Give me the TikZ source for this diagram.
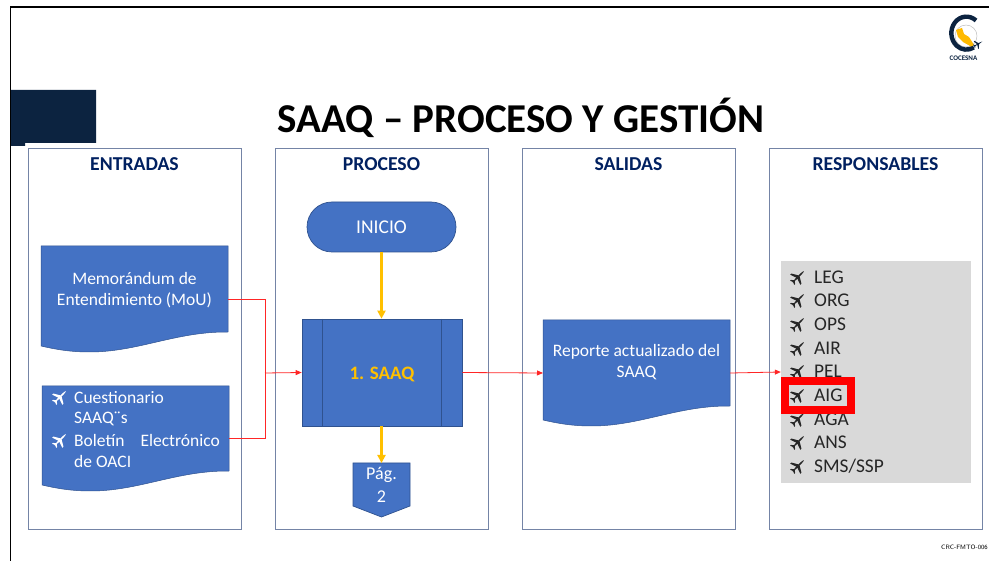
\documentclass[tikz,border=0pt]{standalone}
\usepackage{fontspec}
\setmainfont{Carlito}
\usetikzlibrary{arrows.meta}
\definecolor{boxblue}{HTML}{4472C4}
\definecolor{boxedge}{HTML}{2F528F}
\definecolor{paneledge}{HTML}{7484A6}
\definecolor{headnavy}{HTML}{002060}
\definecolor{bannernavy}{HTML}{0C2340}
\definecolor{gold}{HTML}{FFC000}
\definecolor{softgray}{HTML}{D9D9D9}
% x, y top, width, height, name
\newcommand{\docshape}[5]{%
  \fill[boxblue,draw=boxedge,line width=.5pt]
    (#1,#2) -- ({#1+#3},#2) -- ({#1+#3},{#2+#4-20})
    .. controls ({#1+#3*.72},{#2+#4-20.5}) and ({#1+#3*.52},{#2+#4}) .. ({#1+#3*.26},{#2+#4})
    .. controls ({#1+#3*.15},{#2+#4}) and ({#1+#3*.07},{#2+#4-3}) .. (#1,{#2+#4-6}) -- cycle;
  \node[docnode,minimum width=#3pt,minimum height=#4pt] (#5) at ({#1+#3/2},{#2+#4/2}) {};}
\tikzset{
  x=1pt,y=-1pt,
  panel/.style={draw=paneledge,line width=.9pt,fill=white},
  panelhead/.style={font=\fontsize{19.7}{21}\selectfont\bfseries,text=headnavy,anchor=center,inner sep=0pt},
  docnode/.style={inner sep=0pt,outer sep=0pt,draw=none,text=white},
  whitetext/.style={text=white,font=\fontsize{17.5}{21}\selectfont,inner sep=0pt},
  listitem/.style={font=\fontsize{19.4}{20}\selectfont,anchor=west,inner sep=0pt,text=black!85},
  redflow/.style={draw=red!85,line width=.8pt},
  redarrow/.style={redflow,-{Triangle[length=6pt,width=5pt]}},
  goldarrow/.style={draw=gold,line width=2.2pt,-{Triangle[length=8pt,width=8pt]}},
  blueshape/.style={fill=boxblue,draw=boxedge,line width=.7pt},
  pics/planemark/.style={code={
    \fill[pic actions] (11,0) .. controls (10,1) and (8,1) .. (5,1)
      -- (2,1) -- (-3,9.5) -- (-5.2,9.5) -- (-2.2,1) -- (-7,.9) -- (-9.5,4) -- (-11,4) -- (-9.6,.5)
      -- (-10.2,0)
      -- (-9.6,-.5) -- (-11,-4) -- (-9.5,-4) -- (-7,-.9) -- (-2.2,-1) -- (-5.2,-9.5) -- (-3,-9.5) -- (2,-1)
      -- (5,-1) .. controls (8,-1) and (10,-1) .. (11,0) -- cycle;
  }},
}
\begin{document}
\begin{tikzpicture}
\useasboundingbox (0,0) rectangle (989,561);
\fill[white] (0,0) rectangle (989,561);
% slide frame
\draw[black,line width=1.6pt] (10.5,561) -- (10.5,7) -- (989,7);
% banner
\fill[bannernavy] (11,90) -- (96,90) -- (96,143) -- (25,143) -- (25,146) -- (11,146) -- cycle;
% title
\node[font=\fontsize{41}{43}\selectfont\bfseries,inner sep=0pt] (title) at (521,118) {SAAQ – PROCESO Y GESTIÓN};
% logo
\draw[gray!60,line width=.4pt] (966,36) circle (11);
\draw[bannernavy,line width=4.4pt] (976,20.5) arc[start angle=-50,end angle=-300,x radius=15,y radius=16.5];
\fill[gold!90!orange] (956,30) -- (962,28) -- (964,34) -- (969,37) -- (974,45) -- (971,46.5) -- (963,42) -- (958,37) -- cycle;
\node[font=\fontsize{7}{8}\selectfont\bfseries,text=bannernavy,inner sep=0pt] (logotext) at (963.5,58) {COCESNA};
\pic[rotate=30,scale=.45,fill=bannernavy] at (978,44) {planemark};
% panels
\draw[panel] (28,148) rectangle (241,529);
\draw[panel] (275,148) rectangle (488,529);
\draw[panel] (522,148) rectangle (735,529);
\draw[panel] (769,148) rectangle (982,529);
\node[panelhead] (h1) at (134.5,164.5) {ENTRADAS};
\node[panelhead] (h2) at (381.5,164.5) {PROCESO};
\node[panelhead] (h3) at (628.5,164.5) {SALIDAS};
\node[panelhead] (h4) at (875.5,164.5) {RESPONSABLES};
% entradas
\docshape{41}{246}{187}{106}{memo}
\node[whitetext,align=center] (memotext) at (134.5,290) {Memorándum de\\Entendimiento (MoU)};
\docshape{42}{386}{187}{105}{cuest}
\pic[rotate=45,scale=.75,fill=white] at (60,397) {planemark};
\pic[rotate=45,scale=.75,fill=white] at (60,440) {planemark};
\node[whitetext,anchor=west] (c1) at (74,398) {Cuestionario};
\node[whitetext,anchor=west] (c2) at (74,419) {SAAQ¨s};
\node[whitetext,anchor=west] (c3) at (74,440.5) {Boletín};
\node[whitetext,anchor=east] (c3b) at (220,440.5) {Electrónico};
\node[whitetext,anchor=west] (c4) at (74,461.5) {de OACI};
% proceso
\node[blueshape,rounded corners=25pt,minimum width=149pt,minimum height=50pt,inner sep=0pt] (inicio) at (381.5,227) {};
\node[text=white,font=\fontsize{19.5}{21}\selectfont,inner sep=0pt] (iniciotext) at (381.5,227) {INICIO};
\node[blueshape,minimum width=160pt,minimum height=107pt,inner sep=0pt] (saaq) at (382,372.5) {};
\node[text=gold,font=\fontsize{19}{21}\selectfont\bfseries,inner sep=0pt] (saaqtext) at (382,374) {1. SAAQ};
\draw[boxedge,line width=.9pt] (322,319) -- (322,426) (441,319) -- (441,426);
\fill[boxblue,draw=boxedge,line width=.7pt] (353,463) -- (410,463) -- (410,506) -- (381.5,517) -- (353,506) -- cycle;
\coordinate (pagtop) at (381.5,463);
\node[inner sep=0pt,text=white,align=center,font=\fontsize{18}{23}\selectfont] (pag) at (381.5,484.5) {Pág.\\2};
% salidas
\docshape{543}{320}{187}{106}{reporte}
\node[whitetext,align=center] (reportetext) at (636.5,362.5) {Reporte actualizado del\\SAAQ};
% responsables
\node[fill=softgray,inner sep=0pt,minimum width=190pt,minimum height=222pt] (resp) at (876,372) {};
\foreach \n/\t/\yy in {a/LEG/277,b/ORG/300,c/OPS/324,d/AIR/348,e/PEL/371,f/AIG/395,g/AGA/419,h/ANS/442,i/SMS\slash SSP/466}{
  \pic[rotate=45,scale=.75,fill=black!85] at (798,\yy) {planemark};
  \node[listitem] (it\n) at (814,\yy) {\t};
}
\draw[red,line width=8pt] (785,381) rectangle (851,410);
% connectors
\coordinate (junction) at (265,373);
\draw[redflow] (memo.east) -| (junction);
\draw[redflow] (cuest.east) -| (junction);
\draw[redarrow] (junction) -- (saaq.west);
\draw[redarrow] (saaq.east) -- (reporte.west);
\draw[redarrow] (reporte.east) -- (resp.west);
\draw[goldarrow] (inicio.south) -- (inicio.south |- saaq.north);
\draw[goldarrow] (saaq.south -| pagtop) -- (pagtop);
% footer
\node[font=\fontsize{6.3}{8}\selectfont\sffamily,anchor=east,inner sep=0pt] (foot) at (988,547) {CRC-FMTO-006};
\end{tikzpicture}
\end{document}
